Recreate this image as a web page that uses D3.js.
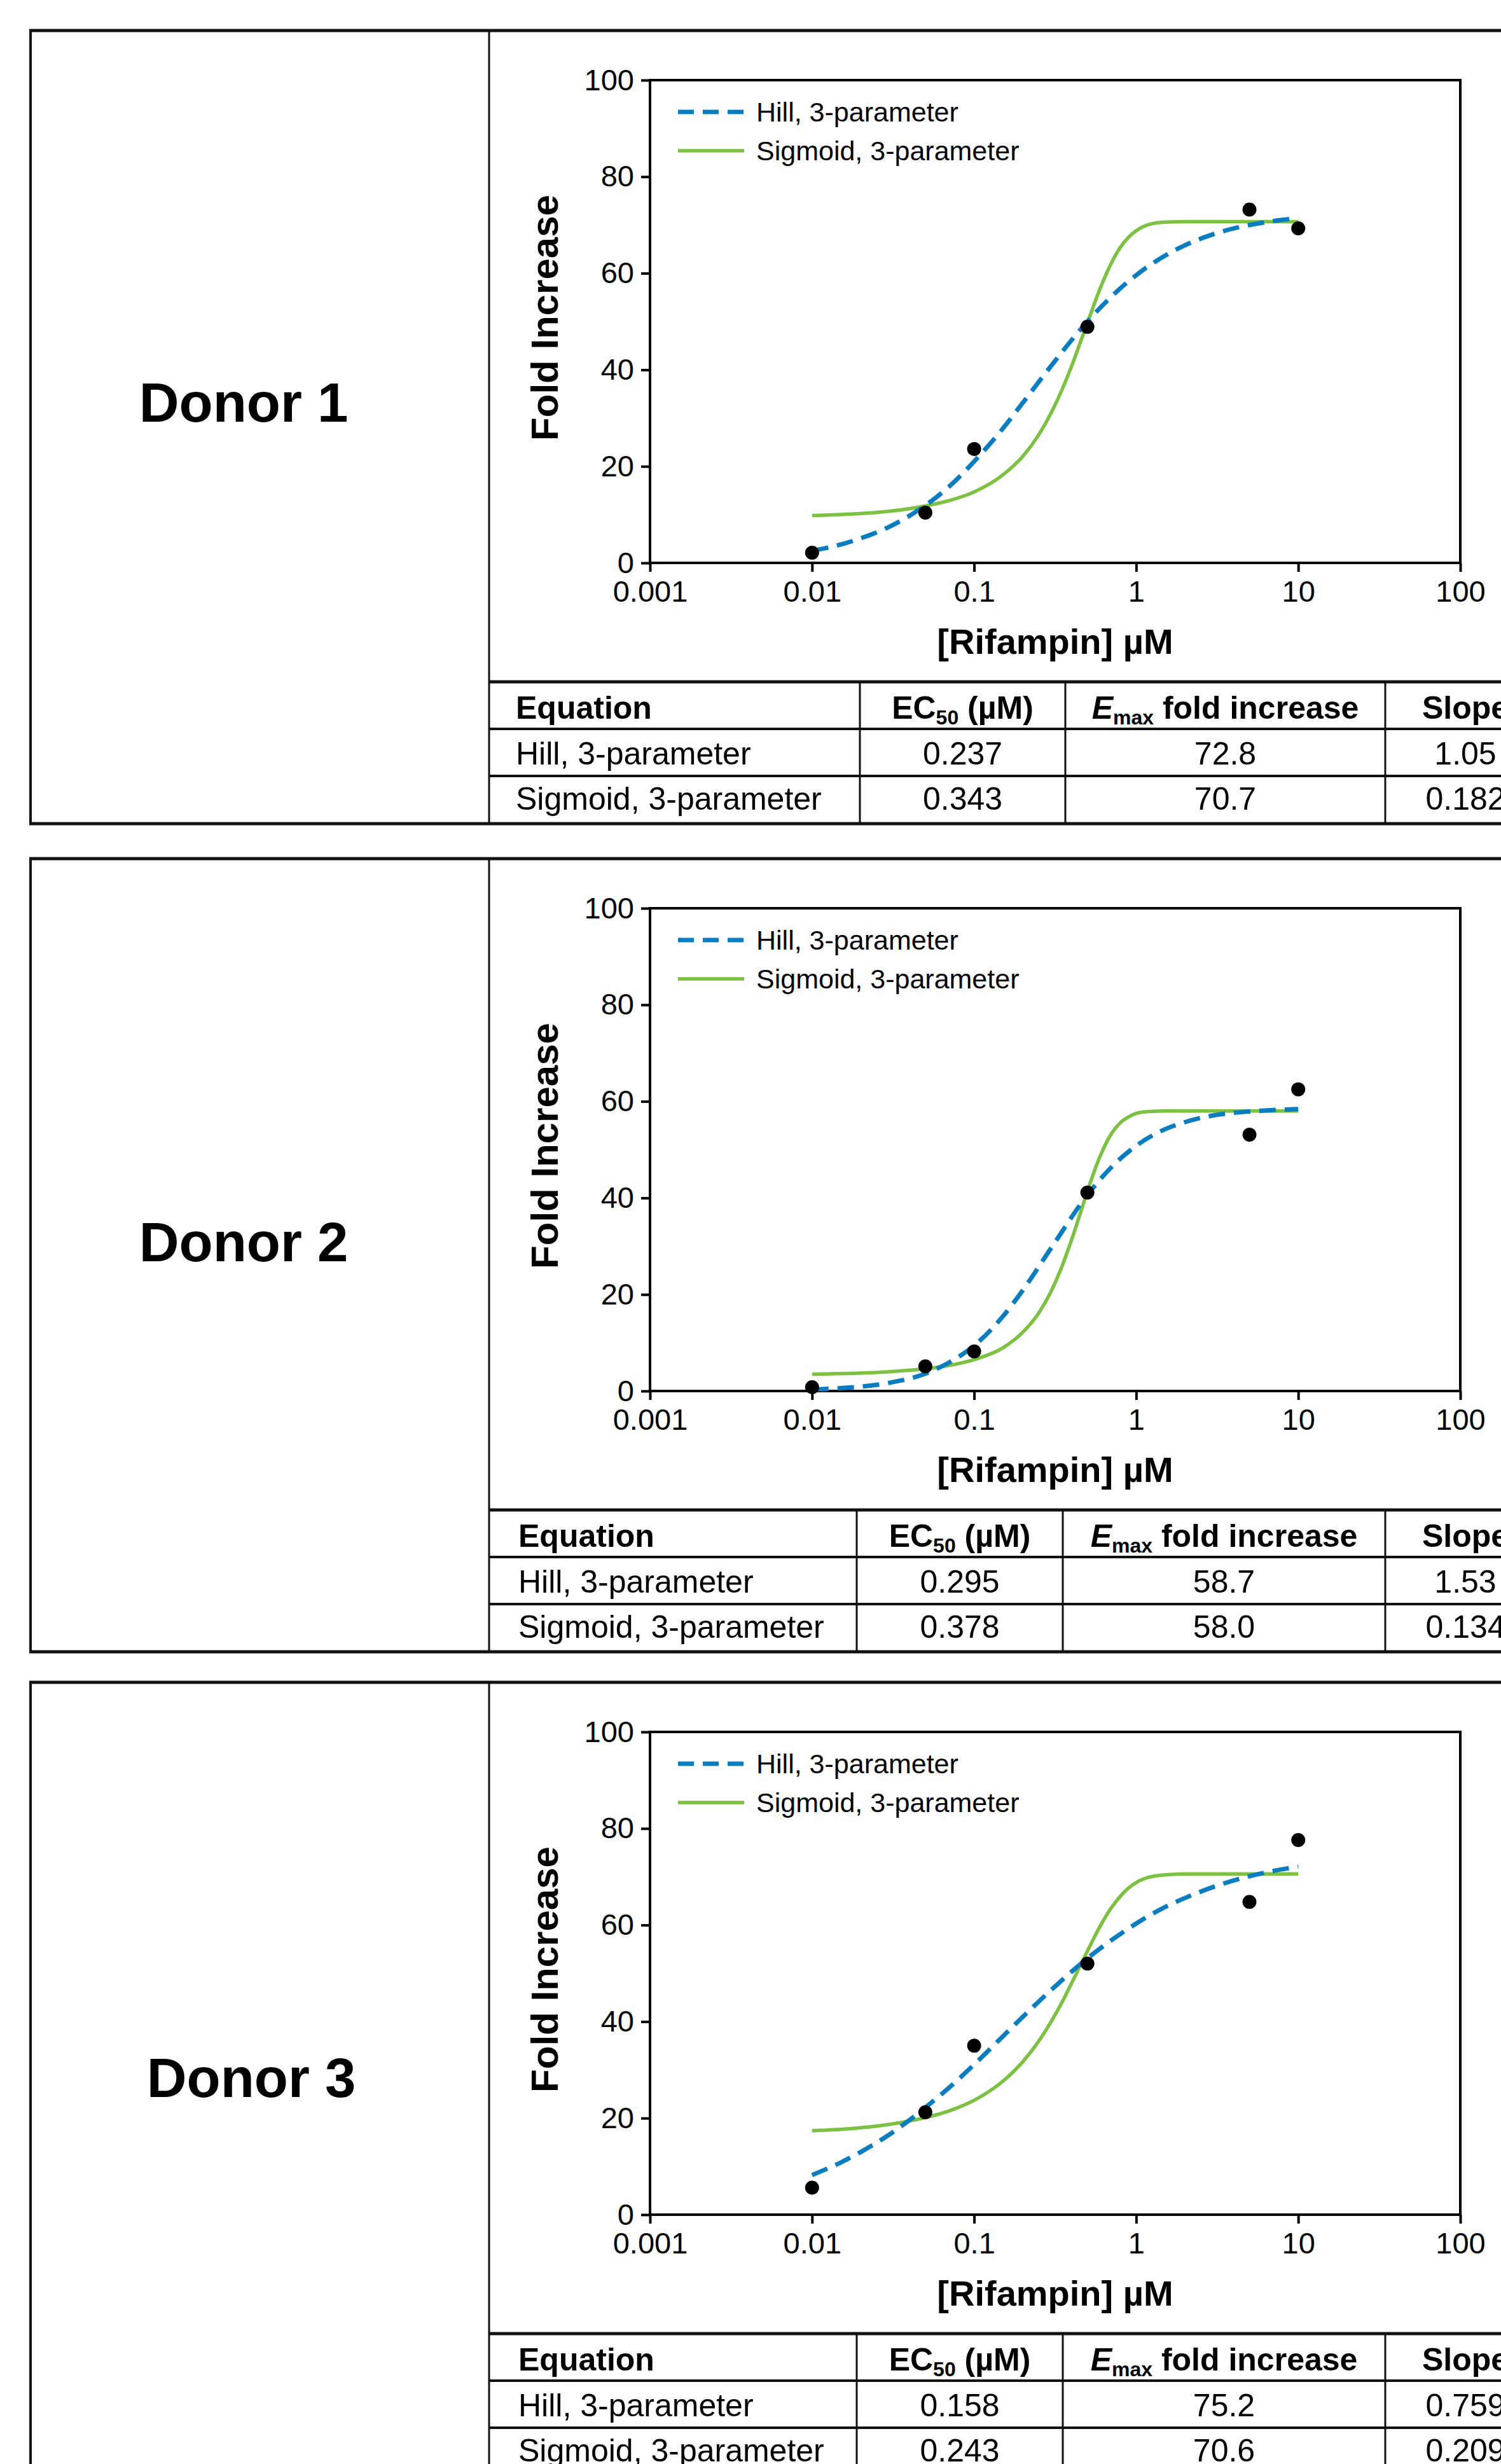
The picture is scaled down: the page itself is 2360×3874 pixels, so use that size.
<!DOCTYPE html>
<html><head><meta charset="utf-8">
<script src="https://cdn.jsdelivr.net/npm/d3@7"></script>
<style>body{margin:0;background:#fff} svg{display:block}</style>
</head><body>
<svg id="c" width="2360" height="3874"></svg>
<script>
// ---------- DATA ----------
const donors = ["Donor 1", "Donor 2", "Donor 3"];
const doses = [0.01, 0.05, 0.1, 0.5, 5, 10];
const foldDonor1 = [2.1, 10.4, 23.6, 48.9, 73.2, 69.3];
const foldDonor2 = [0.8, 5.1, 8.2, 41.1, 53.1, 62.5];
const foldDonor3 = [5.6, 21.2, 35.0, 52.0, 64.8, 77.6];

// Hill, 3-parameter curve
const hillX = [0.01, 0.015, 0.02, 0.03, 0.05, 0.07, 0.1, 0.15, 0.2, 0.3, 0.5, 0.7, 1, 1.5, 2, 3, 5, 7, 10];
const hillDonor1 = [2.5, 3.8, 5.1, 7.5, 11.9, 15.8, 21.0, 27.8, 33.2, 40.9, 50.0, 55.1, 59.6, 63.6, 65.8, 68.1, 70.0, 70.8, 71.4];
const hillDonor2 = [0.3, 0.6, 0.9, 1.7, 3.6, 5.9, 9.4, 15.4, 20.9, 29.7, 40.6, 46.3, 50.8, 54.2, 55.7, 57.1, 57.9, 58.2, 58.4];
const hillDonor3 = [8.2, 10.8, 13.0, 16.6, 22.2, 26.3, 31.1, 36.9, 41.0, 46.6, 53.1, 56.8, 60.3, 63.7, 65.6, 67.9, 70.1, 71.2, 72.1];

// Sigmoid, 3-parameter curve
const sigX = [0.01, 0.03, 0.05, 0.07, 0.1, 0.15, 0.2, 0.25, 0.3, 0.35, 0.4, 0.45, 0.5, 0.6, 0.7, 0.8, 0.9, 1, 1.2, 1.5, 2, 5, 10];
const sigDonor1 = [9.8, 10.7, 11.8, 12.9, 14.7, 18.2, 22.1, 26.5, 31.2, 36.0, 40.8, 45.5, 49.7, 56.9, 62.0, 65.4, 67.5, 68.8, 70.1, 70.6, 70.7, 70.7, 70.7];
const sigDonor2 = [3.5, 4.0, 4.6, 5.3, 6.5, 8.9, 12.2, 16.1, 20.8, 26.0, 31.4, 36.6, 41.4, 48.7, 53.2, 55.6, 56.8, 57.5, 57.9, 58.0, 58.0, 58.0, 58.0];
const sigDonor3 = [17.4, 18.7, 20.1, 21.5, 23.7, 27.6, 31.7, 35.9, 40.1, 44.1, 48.0, 51.5, 54.6, 59.8, 63.5, 66.0, 67.7, 68.8, 69.9, 70.4, 70.6, 70.6, 70.6];

const xTicks = [0.001, 0.01, 0.1, 1, 10, 100];
const xTickLabels = ["0.001", "0.01", "0.1", "1", "10", "100"];
const yTicks = [0, 20, 40, 60, 80, 100];
const legendLabels = ["Hill, 3-parameter", "Sigmoid, 3-parameter"];
const xTitle = "[Rifampin] \u00b5M";
const yTitle = "Fold Increase";

const tableEquations = ["Hill, 3-parameter", "Sigmoid, 3-parameter"];
const ec50Values = [["0.237", "0.343"], ["0.295", "0.378"], ["0.158", "0.243"]];
const emaxValues = [["72.8", "70.7"], ["58.7", "58.0"], ["75.2", "70.6"]];
const slopeValues = [["1.05", "0.182"], ["1.53", "0.134"], ["0.759", "0.209"]];

const foldSeries = [foldDonor1, foldDonor2, foldDonor3];
const hillSeries = [hillDonor1, hillDonor2, hillDonor3];
const sigSeries = [sigDonor1, sigDonor2, sigDonor3];

// ---------- LAYOUT ----------
const W = 2360;
const FF = "'Liberation Sans', Arial, Helvetica, sans-serif";
const BLUE = "#0a7cc0", GREEN = "#7cc142";
const panelTops = [48, 1350, 2645];
const labelPos = [[383, 584], [383, 602], [395, 621]];
const colX = [[769, 1352, 1675, 2178], [769, 1347, 1671, 2178], [769, 1347, 1671, 2178]];

const svg = d3.select("#c");
svg.append("rect").attr("width", W).attr("height", 3874).attr("fill", "#fff");

function hline(g, x1, x2, yv, w) {
  g.append("line").attr("x1", x1).attr("x2", x2).attr("y1", yv).attr("y2", yv)
    .attr("stroke", "#111").attr("stroke-width", w);
}
function vline(g, xv, y1, y2, w) {
  g.append("line").attr("x1", xv).attr("x2", xv).attr("y1", y1).attr("y2", y2)
    .attr("stroke", "#111").attr("stroke-width", w);
}

donors.forEach((name, i) => {
  const T = panelTops[i];
  const g = svg.append("g");

  // panel frame
  hline(g, 46, W, T, 5);
  hline(g, 46, W, T + 1247, 5);
  vline(g, 48, T, T + 1247, 4);
  vline(g, 769, T, T + 1247, 3);

  // donor label
  g.append("text").attr("x", labelPos[i][0]).attr("y", T + labelPos[i][1] + 31)
    .attr("text-anchor", "middle").attr("font-family", FF).attr("font-weight", "bold")
    .attr("font-size", 87).attr("fill", "#000").text(name);

  // scales
  const x = d3.scaleLog().domain([0.001, 100]).range([1022, 2296]);
  const y = d3.scaleLinear().domain([0, 100]).range([T + 837, T + 78]);

  // axes
  const ax = g.append("g").attr("transform", `translate(0,${y(0)})`)
    .call(d3.axisBottom(x).tickValues(xTicks).tickFormat((d, k) => xTickLabels[k])
      .tickSize(14).tickSizeOuter(0).tickPadding(14));
  const ay = g.append("g").attr("transform", `translate(${x(0.001)},0)`)
    .call(d3.axisLeft(y).tickValues(yTicks).tickSize(14).tickSizeOuter(0).tickPadding(11));
  [ax, ay].forEach(a => {
    a.attr("font-family", FF).attr("font-size", 47);
    a.selectAll("text").attr("fill", "#000");
    a.selectAll("line").attr("stroke", "#000").attr("stroke-width", 4);
    a.select(".domain").remove();
  });
  // plot box
  g.append("rect").attr("x", x(0.001)).attr("y", y(100))
    .attr("width", x(100) - x(0.001)).attr("height", y(0) - y(100))
    .attr("fill", "none").attr("stroke", "#000").attr("stroke-width", 4);

  // axis titles
  g.append("text").attr("x", (x(0.001) + x(100)) / 2).attr("y", T + 980)
    .attr("text-anchor", "middle").attr("font-family", FF).attr("font-weight", "bold")
    .attr("font-size", 56).attr("fill", "#000").text(xTitle);
  g.append("text").attr("transform", `translate(877,${(y(0) + y(100)) / 2 - 6}) rotate(-90)`)
    .attr("text-anchor", "middle").attr("font-family", FF).attr("font-weight", "bold")
    .attr("font-size", 60).attr("fill", "#000").text(yTitle);

  // curves
  const line = d3.line().x(d => x(d[0])).y(d => y(d[1])).curve(d3.curveMonotoneX);
  g.append("path").datum(sigX.map((v, k) => [v, sigSeries[i][k]]))
    .attr("d", line).attr("fill", "none").attr("stroke", GREEN).attr("stroke-width", 5.5);
  g.append("path").datum(hillX.map((v, k) => [v, hillSeries[i][k]]))
    .attr("d", line).attr("fill", "none").attr("stroke", BLUE).attr("stroke-width", 7)
    .attr("stroke-dasharray", "26 14");

  // points
  g.selectAll(".pt").data(doses.map((d, k) => [d, foldSeries[i][k]])).enter()
    .append("circle").attr("cx", d => x(d[0])).attr("cy", d => y(d[1])).attr("r", 11).attr("fill", "#000");

  // legend
  const ly = [T + 128, T + 189];
  g.append("line").attr("x1", 1066).attr("x2", 1170).attr("y1", ly[0]).attr("y2", ly[0])
    .attr("stroke", BLUE).attr("stroke-width", 7).attr("stroke-dasharray", "25 14");
  g.append("line").attr("x1", 1066).attr("x2", 1170).attr("y1", ly[1]).attr("y2", ly[1])
    .attr("stroke", GREEN).attr("stroke-width", 5.5);
  legendLabels.forEach((t, k) => {
    g.append("text").attr("x", 1189).attr("y", ly[k] + 15).attr("font-family", FF)
      .attr("font-size", 43).attr("fill", "#000").text(t);
  });

  // table
  const c = colX[i];
  const rowY = [T + 1024, T + 1098, T + 1172, T + 1247];
  hline(g, c[0], W, rowY[0], 5);
  hline(g, c[0], W, rowY[1], 4);
  hline(g, c[0], W, rowY[2], 4);
  [c[1], c[2], c[3]].forEach(cx => vline(g, cx, rowY[0], rowY[3], 3));
  const fs = 50;
  const hb = T + 1082;
  const tx = c[0] + (i === 0 ? 42 : 46);
  const cen1 = (c[1] + c[2]) / 2, cen2 = (c[2] + c[3]) / 2, cen3 = c[3] + 126;
  const txt = (xx, yy, anchor, bold) => g.append("text").attr("x", xx).attr("y", yy)
    .attr("text-anchor", anchor).attr("font-family", FF).attr("font-size", fs)
    .attr("font-weight", bold ? "bold" : "normal").attr("fill", "#000");
  txt(tx, hb, "start", true).text("Equation");
  const h1 = txt(cen1, hb, "middle", true);
  h1.append("tspan").text("EC");
  h1.append("tspan").attr("font-size", 32).attr("dy", 9).text("50");
  h1.append("tspan").attr("dy", -9).text(" (\u00b5M)");
  const h2 = txt(cen2, hb, "middle", true);
  h2.append("tspan").attr("font-style", "italic").text("E");
  h2.append("tspan").attr("font-size", 32).attr("dy", 9).text("max");
  h2.append("tspan").attr("dy", -9).text(" fold increase");
  txt(cen3, hb, "middle", true).text("Slope");
  tableEquations.forEach((eq, r) => {
    const by = T + 1154 + r * 71;
    txt(tx, by, "start", false).text(eq);
    txt(cen1, by, "middle", false).text(ec50Values[i][r]);
    txt(cen2, by, "middle", false).text(emaxValues[i][r]);
    txt(cen3, by, "middle", false).text(slopeValues[i][r]);
  });
});
</script>
</body></html>
